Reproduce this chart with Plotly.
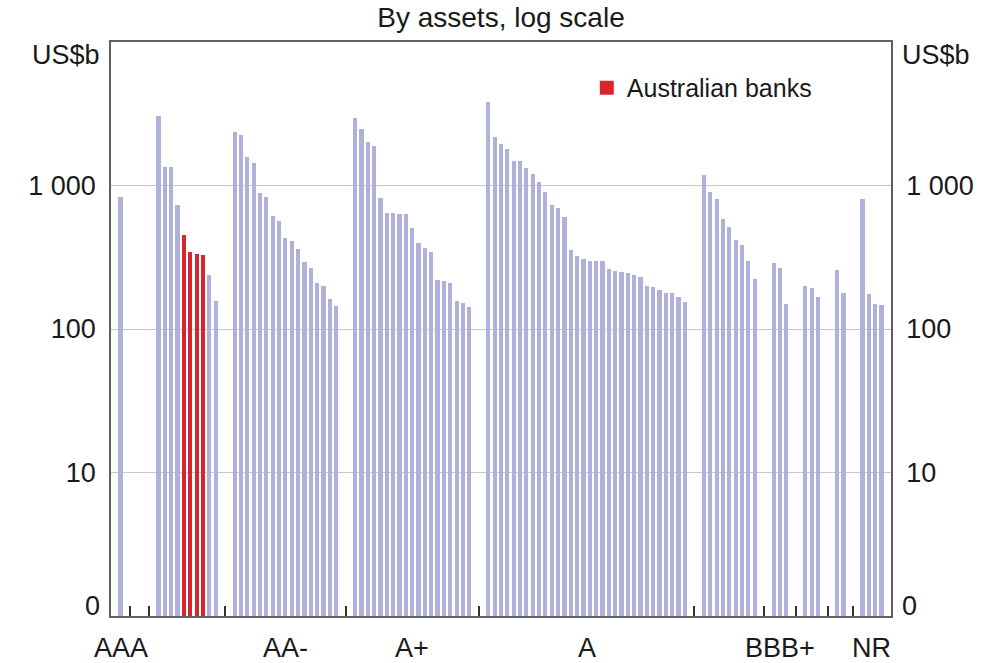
import math
import plotly.graph_objects as go

# ---------------- data (US$b) ----------------
ratings = ["AAA", "AA+", "AA", "AA-", "A+", "A", "A-", "BBB+", "BBB", "BBB-", "NR"]
rating_labels = ["AAA", "", "", "AA-", "A+", "A", "", "BBB+", "", "", "NR"]

aaa = [830]
aa_plus = [None]
aa = [3050, 1345, 1345, 731, 447, 340, 328, 323, 237, 157]
aa_australian = [0, 0, 0, 0, 1, 1, 1, 1, 0, 0]
aa_minus = [2350, 2250, 1580, 1443, 883, 836, 610, 563, 429, 412, 361, 292, 268,
            208, 199, 161, 145]
a_plus = [2967, 2465, 2000, 1876, 814, 646, 640, 630, 630, 503, 396, 367, 344,
          221, 215, 209, 157, 151, 142]
a = [3800, 2178, 1955, 1805, 1483, 1483, 1330, 1197, 1058, 896, 727, 693, 600,
     357, 321, 306, 299, 296, 296, 261, 255, 250, 247, 236, 230, 199, 196, 188,
     178, 178, 167, 155]
a_minus = [1178, 896, 805, 581, 517, 415, 383, 299, 223]
bbb_plus = [288, 265, 149]
bbb = [200, 192, 166]
bbb_minus = [258, 178]
nr = [801, 175, 149, 146]

y_tickvals = [10, 100, 1000]
y_ticktext = ["10", "100", "1 000"]

group_values = [aaa, aa_plus, aa, aa_minus, a_plus, a, a_minus, bbb_plus, bbb,
                bbb_minus, nr]
group_flags = [[0] * len(g) for g in group_values]
group_flags[2] = aa_australian

# ---------------- layout of categories ----------------
other_x, other_y, aus_x, aus_y = [], [], [], []
boundaries, centers = [], []
pos = 0
for vals, flags in zip(group_values, group_flags):
    n_slots = len(vals) + 2
    centers.append(pos + n_slots / 2)
    for i, (v, f) in enumerate(zip(vals, flags)):
        xp = pos + 1 + i + 0.5
        if v is None:
            continue
        if f:
            aus_x.append(xp); aus_y.append(v)
        else:
            other_x.append(xp); other_y.append(v)
    pos += n_slots
    boundaries.append(pos)
total = pos
boundaries = boundaries[:-1]

FONT = "Liberation Sans, Arial, sans-serif"
TXT = "#1a1a1a"
AX = "#606060"
FS = 27
RED = "#d7262d"

fig = go.Figure()
fig.add_trace(go.Bar(x=other_x, y=other_y, width=0.66, name="Other banks",
                     marker=dict(color="#b0b0dc", line=dict(width=0)),
                     showlegend=False))
fig.add_trace(go.Bar(x=aus_x, y=aus_y, width=0.35, name="Australian banks",
                     marker=dict(color=RED, line=dict(width=2, color=RED)),
                     yaxis="y2", showlegend=True))

yax = dict(type="log", range=[0, 4], tickvals=y_tickvals, ticktext=y_ticktext,
           showgrid=True, gridcolor="#c8c8c8", gridwidth=1, ticks="",
           showline=True, linecolor=AX, linewidth=1.5, zeroline=False,
           tickfont=dict(family=FONT, size=FS, color=TXT), ticklabelstandoff=8,
           fixedrange=True)

annotations = []
for c, lab in zip(centers, rating_labels):
    if lab:
        annotations.append(dict(x=c, y=0, xref="x", yref="paper", text=lab,
                                showarrow=False, yanchor="middle", yshift=-32,
                                font=dict(family=FONT, size=FS, color=TXT)))
annotations += [
    dict(x=0, y=0, xref="paper", yref="y", text="0", showarrow=False,
         xanchor="right", yanchor="middle", xshift=-9, yshift=10,
         font=dict(family=FONT, size=FS, color=TXT)),
    dict(x=1, y=0, xref="paper", yref="y", text="0", showarrow=False,
         xanchor="left", yanchor="middle", xshift=9, yshift=10,
         font=dict(family=FONT, size=FS, color=TXT)),
    dict(x=0, y=1, xref="paper", yref="paper", text="US$b", showarrow=False,
         xanchor="right", yanchor="middle", xshift=-9, yshift=-13,
         font=dict(family=FONT, size=FS, color=TXT)),
    dict(x=1, y=1, xref="paper", yref="paper", text="US$b", showarrow=False,
         xanchor="left", yanchor="middle", xshift=9, yshift=-13,
         font=dict(family=FONT, size=FS, color=TXT)),
]

fig.update_layout(
    width=996, height=663,
    margin=dict(l=111, r=105, t=42, b=47),
    paper_bgcolor="white", plot_bgcolor="white",
    barmode="overlay",
    title=dict(text="By assets, log scale", x=0.5, xref="paper", xanchor="center",
               y=1 - 17 / 663, yref="container", yanchor="middle",
               font=dict(family=FONT, size=28, color=TXT)),
    xaxis=dict(range=[0, total], tickvals=boundaries, showticklabels=False,
               ticks="inside", ticklen=10, tickcolor="#333", tickwidth=1.5,
               showgrid=False, zeroline=False, showline=True, linecolor=AX,
               linewidth=1.5, mirror=True, fixedrange=True),
    yaxis=yax,
    yaxis2=dict(yax, overlaying="y", side="right", showgrid=False),
    legend=dict(x=0.61, y=0.92, xanchor="left", yanchor="middle",
                bgcolor="rgba(0,0,0,0)", borderwidth=0,
                font=dict(family=FONT, size=25, color=TXT)),
    annotations=annotations,
    bargap=0,
)

fig.write_html("out.html",
               config={"displayModeBar": False},
               post_script="document.body.style.margin='0';"
                           "document.body.style.overflow='hidden';")
